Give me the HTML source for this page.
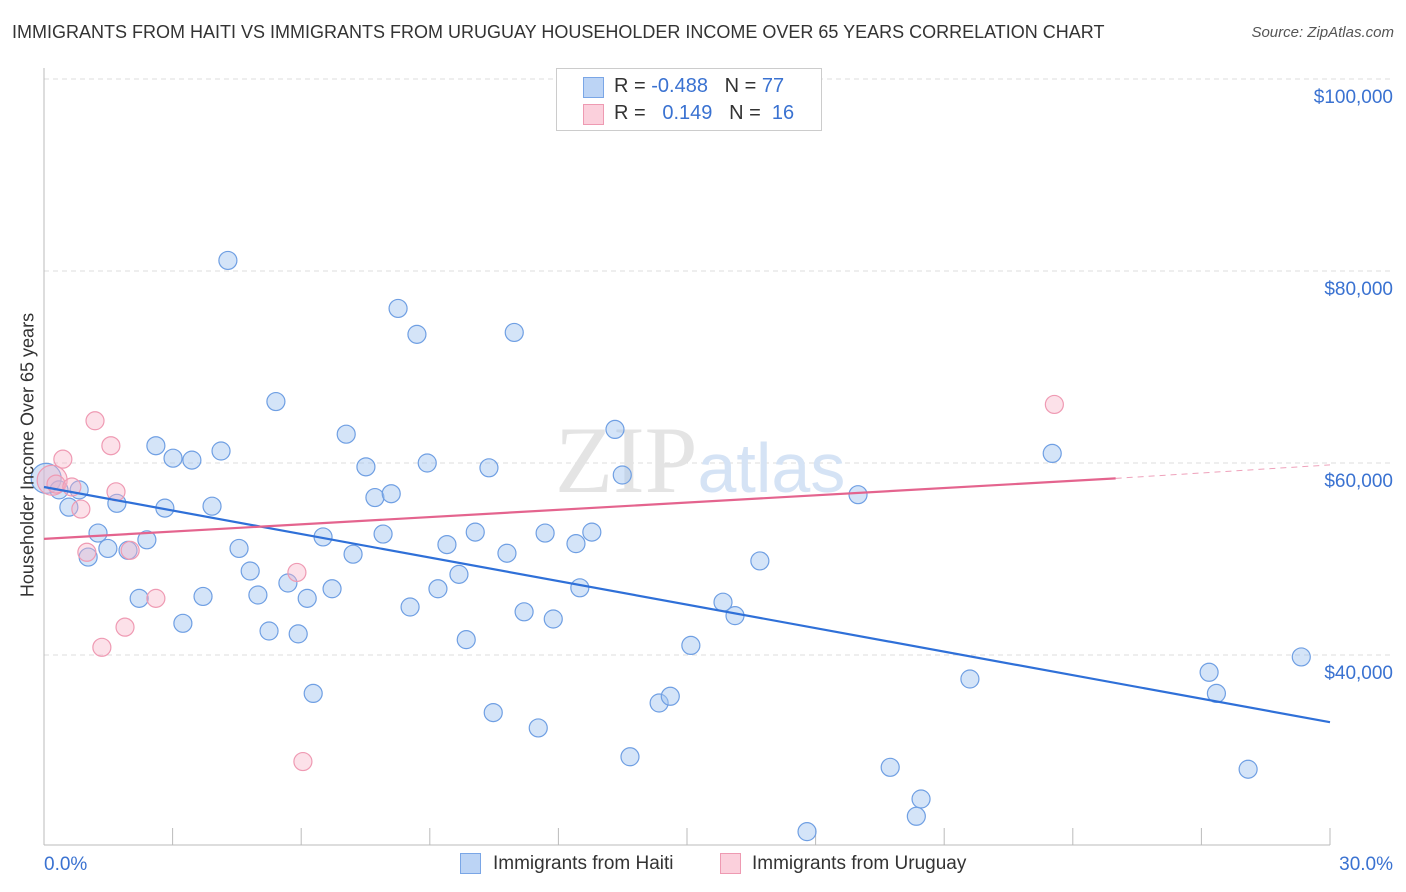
<!DOCTYPE html>
<html><head><meta charset="utf-8"><style>
body{margin:0;background:#fff;font-family:"Liberation Sans",sans-serif;}
#wrap{position:relative;width:1406px;height:892px;overflow:hidden}
.t{position:absolute;white-space:nowrap}
</style></head><body>
<div id="wrap">
<div class="t" style="left:12px;top:22px;font-size:18px;color:#333">IMMIGRANTS FROM HAITI VS IMMIGRANTS FROM URUGUAY HOUSEHOLDER INCOME OVER 65 YEARS CORRELATION CHART</div>
<div class="t" style="right:12px;top:24px;font-size:15px;color:#555;font-style:italic">Source: ZipAtlas.com</div>
<svg id="svg" width="1406" height="892" style="position:absolute;left:0;top:0"></svg>
<div class="t" style="left:556px;top:68px;width:264px;height:61px;border:1px solid #ccc;background:#fff;font-size:20px;color:#333">
 <div style="position:absolute;left:26px;top:8px;width:19px;height:19px;background:#bcd4f5;border:1px solid #7aa6e6"></div>
 <div style="position:absolute;left:26px;top:35px;width:19px;height:19px;background:#fbd0dc;border:1px solid #ee9ab2"></div>
 <div class="t" style="left:57px;top:6px">R = <span style="color:#3a72d1">-0.488</span>&nbsp;&nbsp;&nbsp;N = <span style="color:#3a72d1">77</span></div>
 <div class="t" style="left:57px;top:33px">R = &nbsp;&nbsp;<span style="color:#3a72d1">0.149</span>&nbsp;&nbsp;&nbsp;N = &nbsp;<span style="color:#3a72d1">16</span></div>
</div>
<div class="t" style="left:460px;top:853px;width:21px;height:21px;background:#bcd4f5;border:1px solid #7aa6e6;box-sizing:border-box"></div>
<div class="t" style="left:493px;top:853px;font-size:19px;color:#333">Immigrants from Haiti</div>
<div class="t" style="left:720px;top:853px;width:21px;height:21px;background:#fbd0dc;border:1px solid #ee9ab2;box-sizing:border-box"></div>
<div class="t" style="left:752px;top:853px;font-size:19px;color:#333">Immigrants from Uruguay</div>
<div class="t" style="left:18px;top:455px;font-size:18px;color:#333;transform:translate(-50%,-50%) rotate(-90deg);transform-origin:center;left:28px">Householder Income Over 65 years</div>
</div>
<script>
const yTicks=[40000,60000,80000,100000];
const yTickLabels=["$40,000","$60,000","$80,000","$100,000"];
const xTickLabels=["0.0%","30.0%"];
const haitiX=[4.29,8.26,8.70,10.97,5.41,7.05,13.32,2.61,3.01,3.45,4.13,7.51,8.94,10.38,13.49,23.52,0.05,0.35,0.82,0.58,1.70,2.82,3.92,7.72,8.10,18.99,1.26,1.03,1.49,1.96,2.40,4.55,6.51,7.21,7.91,9.40,10.06,10.80,11.69,12.41,12.78,4.81,5.69,2.22,3.71,4.99,6.14,6.72,9.19,9.68,8.54,11.20,11.88,12.50,15.84,16.12,16.70,3.24,5.25,5.93,9.85,15.09,6.28,10.48,11.53,14.35,14.61,13.67,21.60,27.18,27.35,29.33,19.74,20.46,20.35,17.80,28.09];
const haitiY=[81.1,76.1,73.4,73.6,66.4,63.0,63.5,61.8,60.5,60.3,61.25,59.6,60.0,59.5,58.75,61.0,58.4,57.2,57.2,55.4,55.8,55.3,55.5,56.4,56.8,56.7,52.7,50.2,51.1,50.9,52.0,51.1,52.3,50.5,52.6,51.5,52.8,50.6,52.7,51.6,52.8,48.75,47.5,45.9,46.1,46.25,45.9,46.9,46.9,48.4,45.0,44.5,43.75,47.0,45.5,44.1,49.8,43.3,42.5,42.2,41.6,41.0,36.0,34.0,32.4,35.0,35.7,29.4,37.5,38.2,36.0,39.8,28.3,25.0,23.2,21.6,28.1].map(v=>v*1000);
const uruX=[0.19,0.28,0.44,1.19,1.56,0.86,1.68,0.65,1.00,2.01,5.90,2.61,1.89,1.35,6.04,23.57];
const uruY=[58.2,57.8,60.4,64.4,61.8,55.2,57.0,57.5,50.7,50.9,48.6,45.9,42.9,40.8,28.9,66.1].map(v=>v*1000);
const haitiTrend=[[0,57500],[30,33000]];
const uruTrend=[[0,52100],[25,58400],[30,59800]];

const sx=x=>44+x*(1330-44)/30;
const sy=y=>79+(100000-y)*9.6/1000;
const svg=document.getElementById('svg');
const NS='http://www.w3.org/2000/svg';
function mk(tag,attrs){const e=document.createElementNS(NS,tag);for(const k in attrs)e.setAttribute(k,attrs[k]);svg.appendChild(e);return e;}
// grid
yTicks.forEach((v,i)=>{
 const g=mk('line',{x1:44,x2:1393,y1:sy(v),y2:sy(v),stroke:'#ddd','stroke-dasharray':'5,4'});
 
 
 const t=mk('text',{x:1393,y:sy(v)+24,'text-anchor':'end','font-size':19,fill:'#3a72d1','font-family':'Liberation Sans, sans-serif'});
 t.textContent=yTickLabels[i];
 
 
});
const ax=mk('line',{x1:44,x2:44,y1:68,y2:845,stroke:'#bbb'});


const bx=mk('line',{x1:44,x2:1330,y1:845,y2:845,stroke:'#bbb'});


for(let i=0;i<=10;i++){
 const tk=mk('line',{x1:sx(i*3),x2:sx(i*3),y1:828,y2:845,stroke:'#bbb'});
 
 
}
const xl0=mk('text',{x:44,y:870,'font-size':19,fill:'#3a72d1','font-family':'Liberation Sans, sans-serif'});
xl0.textContent=xTickLabels[0];


const xl1=mk('text',{x:1393,y:870,'text-anchor':'end','font-size':19,fill:'#3a72d1','font-family':'Liberation Sans, sans-serif'});
xl1.textContent=xTickLabels[1];


// watermark
const wm=mk('text',{x:555,y:492,'font-size':95,fill:'#e4e4e4','font-family':'Liberation Serif, serif'});
wm.innerHTML='ZIP<tspan fill="#d5e3f5" font-family="Liberation Sans, sans-serif" font-size="70">atlas</tspan>';


// points
haitiX.forEach((x,i)=>{
 const c=mk('circle',{cx:sx(x),cy:sy(haitiY[i]),r:i===16?15:9,fill:'rgba(160,195,240,0.45)',stroke:'#6f9fe3','stroke-width':1.2});
 
 
});
uruX.forEach((x,i)=>{
 const c=mk('circle',{cx:sx(x),cy:sy(uruY[i]),r:i===0?15:9,fill:'rgba(248,180,200,0.4)',stroke:'#ef9ab3','stroke-width':1.2});
 
 
});
const hl=mk('line',{x1:sx(haitiTrend[0][0]),y1:sy(haitiTrend[0][1]),x2:sx(haitiTrend[1][0]),y2:sy(haitiTrend[1][1]),stroke:'#2f70d8','stroke-width':2.2});


const ul=mk('line',{x1:sx(uruTrend[0][0]),y1:sy(uruTrend[0][1]),x2:sx(uruTrend[1][0]),y2:sy(uruTrend[1][1]),stroke:'#e4648e','stroke-width':2.2});


const ud=mk('line',{x1:sx(uruTrend[1][0]),y1:sy(uruTrend[1][1]),x2:sx(uruTrend[2][0]),y2:sy(uruTrend[2][1]),stroke:'#e4648e','stroke-width':1,'stroke-dasharray':'6,5',opacity:0.6});


</script>
</body></html>
